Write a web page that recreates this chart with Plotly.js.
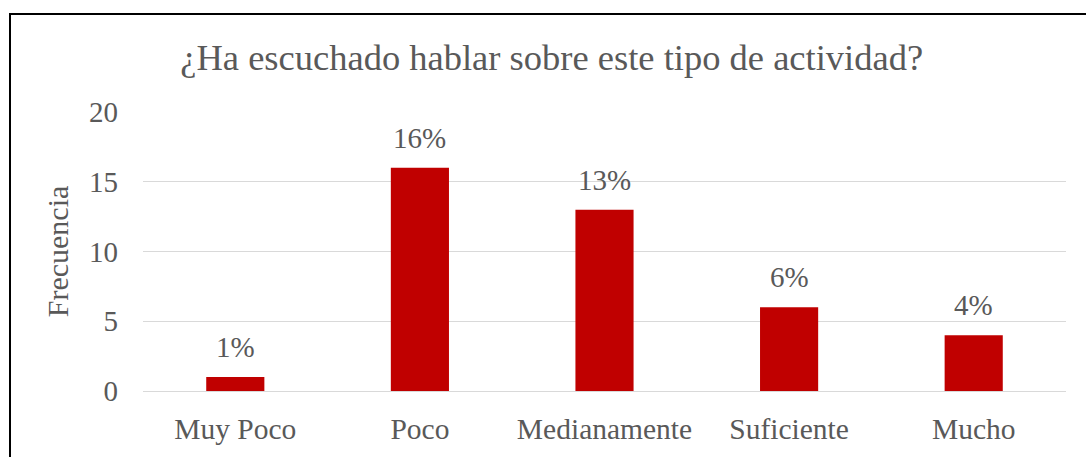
<!DOCTYPE html>
<html>
<head>
<meta charset="utf-8">
<script src="https://cdn.plot.ly/plotly-3.0.1.min.js"></script>
<style>
  html, body { margin: 0; padding: 0; background: #fff; overflow: hidden; }
  #chart { width: 1086px; height: 457px; }
  #frame { position: absolute; left: 9px; top: 13px; width: 1090px; height: 470px; border: 2.5px solid #000; pointer-events: none; box-sizing: border-box; }
</style>
</head>
<body>
<div id="chart"></div>
<div id="frame"></div>
<script>
const categories = ["Muy Poco", "Poco", "Medianamente", "Suficiente", "Mucho"];
const frecuencia = [1, 16, 13, 6, 4];
const porcentajes = ["1%", "16%", "13%", "6%", "4%"];
const yTicks = [0, 5, 10, 15, 20];

const FONT = "'Liberation Serif', 'Times New Roman', serif";
const GRAY = "#595959";

const trace = {
  type: "bar",
  x: categories,
  y: frecuencia,
  marker: { color: "#C00000" },
  hoverinfo: "none"
};

const annotations = categories.map((c, i) => ({
  x: c, y: frecuencia[i], xref: "x", yref: "y",
  text: porcentajes[i], showarrow: false,
  yanchor: "bottom", yshift: 12,
  font: { family: FONT, size: 29, color: GRAY }
}));

const layout = {
  width: 1086, height: 457,
  margin: { l: 143, r: 20, t: 112, b: 66 },
  paper_bgcolor: "#fff", plot_bgcolor: "#fff",
  bargap: 0.685,
  showlegend: false,
  title: {
    text: "¿Ha escuchado hablar sobre este tipo de actividad?",
    font: { family: FONT, size: 36.5, color: GRAY },
    x: 0.508, xref: "container", xanchor: "center",
    y: 1 - 57 / 457, yref: "container", yanchor: "middle"
  },
  xaxis: {
    showgrid: false, showline: true, linecolor: "#d9d9d9", linewidth: 1,
    tickfont: { family: FONT, size: 29.5, color: GRAY },
    ticks: "", ticklabelstandoff: 12, automargin: false
  },
  yaxis: {
    range: [0, 20], tickvals: yTicks, ticktext: yTicks.map(String),
    showgrid: true, gridcolor: "#d9d9d9", gridwidth: 1,
    zeroline: false, showline: false, ticks: "",
    tickfont: { family: FONT, size: 29, color: GRAY },
    ticklabelstandoff: 24, automargin: false,
    title: { text: "Frecuencia", font: { family: FONT, size: 30, color: GRAY }, standoff: 11 }
  },
  annotations: annotations
};

Plotly.newPlot("chart", [trace], layout, { staticPlot: true, displayModeBar: false });
</script>
</body>
</html>
